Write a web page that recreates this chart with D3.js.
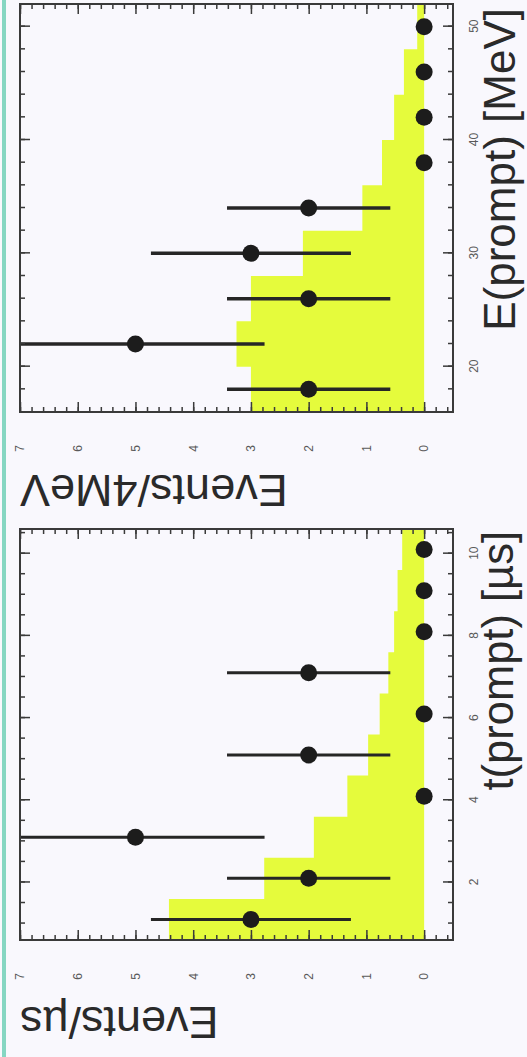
<!DOCTYPE html>
<html lang="en">
<head>
  <meta charset="UTF-8">
  <title>Events vs E(prompt) and t(prompt)</title>
  <style>
    html, body { margin: 0; padding: 0; background: #f9f8fd; }
    svg { display: block; }
    text { font-family: "Liberation Sans", Arial, sans-serif; }
  </style>
</head>
<body>
  <script src="https://cdn.jsdelivr.net/npm/d3@7"></script>
  <script>
    // energy panel, 4 MeV bins
    const eCenters  = [18, 22, 26, 30, 34, 38, 42, 46, 50];
    const eCounts   = [2, 5, 2, 3, 2, 0, 0, 0, 0];
    const eExpected = [3.0, 3.25, 3.0, 2.1, 1.07, 0.73, 0.52, 0.35, 0.12];
    const eTicks    = [20, 30, 40, 50];

    // time panel, 1 us bins
    const tCenters  = [1.1, 2.1, 3.1, 4.1, 5.1, 6.1, 7.1, 8.1, 9.1, 10.1];
    const tCounts   = [3, 2, 5, 0, 2, 0, 2, 0, 0, 0];
    const tExpected = [4.42, 2.77, 1.91, 1.33, 0.97, 0.77, 0.62, 0.52, 0.46, 0.38];
    const tTicks    = [2, 4, 6, 8, 10];

    const countTicks = [0, 1, 2, 3, 4, 5, 6, 7];

    const W = 1057, H = 527;   // figure is drawn landscape, then turned
    const plotTop = 20, plotBottom = 453;

    const svg = d3.select('body').append('svg')
      .attr('width', H)
      .attr('height', W);

    svg.append('rect')
      .attr('x', 2).attr('y', 0)
      .attr('width', 4).attr('height', W)
      .attr('fill', '#86d6c2');

    const fig = svg.append('g')
      .attr('transform', `translate(0,${W}) rotate(-90)`);

    const y = d3.scaleLinear().domain([-0.5, 7]).range([plotBottom, plotTop]);

    function panel(id, opts){
      const x = d3.scaleLinear().domain(opts.domain).range(opts.range);
      const g = fig.append('g').attr('class', 'panel ' + id);
      const x0 = opts.range[0], x1 = opts.range[1];

      g.append('clipPath').attr('id', 'clip-' + id)
        .append('rect')
        .attr('x', x0).attr('y', plotTop)
        .attr('width', x1 - x0).attr('height', plotBottom - plotTop);

      const plot = g.append('g').attr('clip-path', `url(#clip-${id})`);

      // expected histogram
      const half = opts.width / 2;
      const pts = [];
      opts.centers.forEach((c, i) => {
        pts.push([c - half, opts.expected[i]]);
        pts.push([c + half, opts.expected[i]]);
      });
      const area = d3.area()
        .x(d => x(d[0]))
        .y0(y(0))
        .y1(d => y(d[1]));
      plot.append('path')
        .datum(pts)
        .attr('d', area)
        .attr('fill', '#e5fb3c');

      // data with sqrt(n) errors
      const data = opts.centers.map((c, i) => ({x: c, n: opts.counts[i]}));
      plot.selectAll('line.err')
        .data(data.filter(d => d.n > 0))
        .enter().append('line')
        .attr('class', 'err')
        .attr('x1', d => x(d.x)).attr('x2', d => x(d.x))
        .attr('y1', d => y(d.n - Math.sqrt(d.n)))
        .attr('y2', d => y(d.n + Math.sqrt(d.n)))
        .attr('stroke', '#262626')
        .attr('stroke-width', opts.errWidth);
      plot.selectAll('circle.pt')
        .data(data)
        .enter().append('circle')
        .attr('class', 'pt')
        .attr('cx', d => x(d.x))
        .attr('cy', d => y(d.n))
        .attr('r', 8.5)
        .attr('fill', '#1c1c1c');

      // ticks on all four sides, pointing in
      const minorY = d3.range(-0.4, 7.01, 0.2);
      const axes = [
        [d3.axisLeft(y).tickValues(countTicks).tickSize(-10).tickPadding(33).tickFormat(d3.format('d')), `translate(${x0},0)`],
        [d3.axisLeft(y).tickValues(minorY).tickSize(-5).tickFormat(''), `translate(${x0},0)`],
        [d3.axisRight(y).tickValues(countTicks).tickSize(-10).tickFormat(''), `translate(${x1},0)`],
        [d3.axisRight(y).tickValues(minorY).tickSize(-5).tickFormat(''), `translate(${x1},0)`],
        [d3.axisBottom(x).tickValues(opts.ticks).tickSize(-10).tickPadding(16).tickFormat(d3.format('d')), `translate(0,${plotBottom})`],
        [d3.axisBottom(x).tickValues(opts.minor).tickSize(-5).tickFormat(''), `translate(0,${plotBottom})`],
        [d3.axisTop(x).tickValues(opts.ticks).tickSize(-10).tickFormat(''), `translate(0,${plotTop})`],
        [d3.axisTop(x).tickValues(opts.minor).tickSize(-5).tickFormat(''), `translate(0,${plotTop})`]
      ];
      axes.forEach(([axis, tr]) => {
        const a = g.append('g').attr('transform', tr).call(axis);
        a.select('.domain').remove();
        a.selectAll('line').attr('stroke', '#3a3a3a').attr('stroke-width', 1.5);
        a.selectAll('text')
          .attr('font-size', 12)
          .attr('fill', '#5a5a5a')
          .attr('font-family', '"Liberation Sans", Arial, sans-serif');
      });

      g.append('rect')
        .attr('x', x0).attr('y', plotTop)
        .attr('width', x1 - x0).attr('height', plotBottom - plotTop)
        .attr('fill', 'none')
        .attr('stroke', '#3a3a3a')
        .attr('stroke-width', 2);

      // titles
      g.append('text')
        .attr('transform', `translate(${opts.yTitleX},${plotTop}) rotate(-90)`)
        .attr('text-anchor', 'end')
        .attr('font-size', 45)
        .attr('fill', '#2a2a2a')
        .text(opts.yTitle);
      g.append('text')
        .attr('x', opts.xTitleEnd)
        .attr('y', opts.xTitleY)
        .attr('text-anchor', 'end')
        .attr('font-size', opts.xTitleSize)
        .attr('fill', '#2a2a2a')
        .text(opts.xTitle);
    }

    panel('time', {
      domain: [0.6, 10.6], range: [117, 528], width: 1,
      centers: tCenters, counts: tCounts, expected: tExpected,
      ticks: tTicks, minor: d3.range(1, 10.6, 0.5),
      errWidth: 3,
      yTitle: 'Events/\u00b5s', yTitleX: 50,
      xTitle: 't(prompt) [\u00b5s]', xTitleEnd: 526, xTitleY: 513, xTitleSize: 43.5
    });

    panel('energy', {
      domain: [16, 52], range: [645, 1053], width: 4,
      centers: eCenters, counts: eCounts, expected: eExpected,
      ticks: eTicks, minor: d3.range(18, 52, 2),
      errWidth: 3.5,
      yTitle: 'Events/4MeV', yTitleX: 582,
      xTitle: 'E(prompt) [MeV]', xTitleEnd: 1049, xTitleY: 515, xTitleSize: 44
    });
  </script>
</body>
</html>
